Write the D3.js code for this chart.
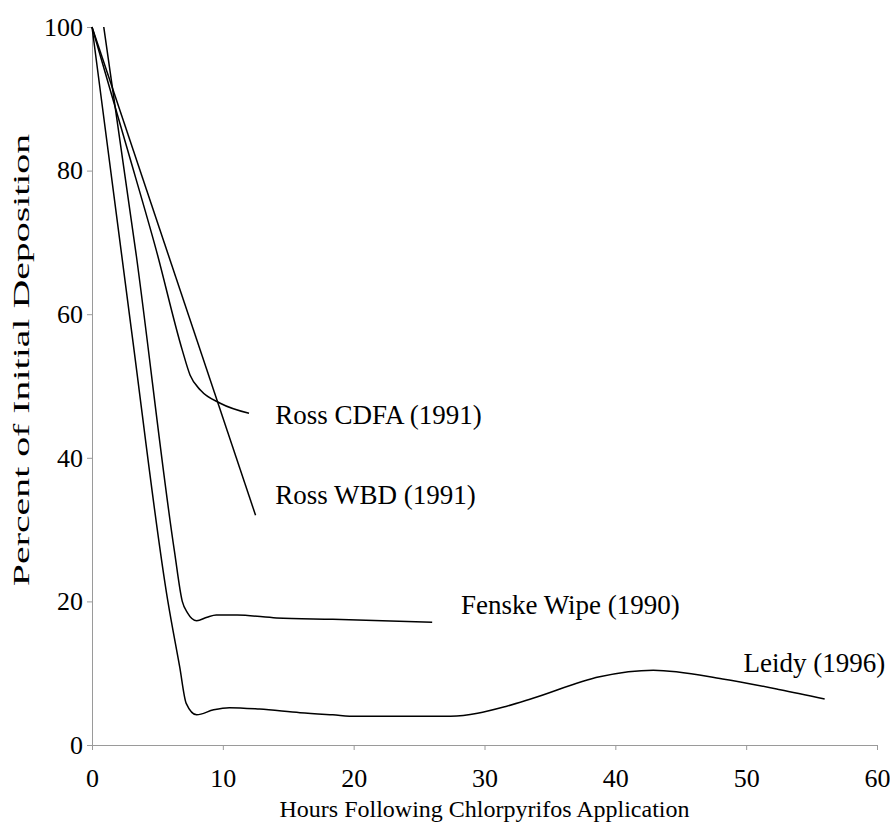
<!DOCTYPE html>
<html>
<head>
<meta charset="utf-8">
<script src="https://cdn.jsdelivr.net/npm/d3@7"></script>
<style>
  body { margin: 0; background: #fff; }
  svg { display: block; font-family: "Liberation Serif", "Times New Roman", serif; }
  .axis path, .axis line { stroke: #9a9a9a; }
  .axis text { font-size: 26px; fill: #000; font-family: "Liberation Serif", serif; }
</style>
</head>
<body>
<svg id="chart"></svg>
<script>
// values
const xTicks = [0, 10, 20, 30, 40, 50, 60];
const yTicks = [0, 20, 40, 60, 80, 100];

const leidyHours = [0, 3, 5.8, 6.7, 7.2, 8, 9.3, 10.5, 12.8, 15.9, 18.4, 20.2, 27.4, 31.7, 33.7, 38.8, 42.9, 48.2, 52.6, 56];
const leidyPct   = [100, 58, 20, 10.9, 5.8, 4.2, 4.9, 5.2, 5.0, 4.5, 4.2, 4.0, 4.0, 5.4, 6.5, 9.5, 10.4, 9.2, 7.7, 6.4];

const fenskeHours = [0.9, 3.4, 6.3, 6.9, 7.3, 8.0, 8.8, 9.5, 11.1, 14.1, 18.4, 26];
const fenskePct   = [100, 68, 27, 20, 18.4, 17.3, 17.8, 18.1, 18.1, 17.7, 17.5, 17.1];

const cdfaHours = [0, 2.7, 4.9, 6.9, 7.5, 8.3, 9.8, 12];
const cdfaPct   = [100, 83, 69, 55, 51.5, 49.4, 47.6, 46.2];

const wbdHours = [0, 12.5];
const wbdPct   = [100, 32];

const seriesNames = ["Leidy (1996)", "Fenske Wipe (1990)", "Ross CDFA (1991)", "Ross WBD (1991)"];

const width = 890, height = 828;
const margin = { top: 27, right: 13, bottom: 83, left: 92 };

const svg = d3.select('#chart')
    .attr('width', width)
    .attr('height', height);

// scales
const x = d3.scaleLinear().domain([0, 60]).range([margin.left, width - margin.right]);
const y = d3.scaleLinear().domain([0, 100]).range([height - margin.bottom, margin.top]);

// axes
svg.append('g')
    .attr('class', 'axis')
    .attr('transform', `translate(0,${height - margin.bottom})`)
    .call(d3.axisBottom(x).tickValues(xTicks).tickSize(5).tickSizeOuter(0).tickPadding(19));

svg.append('g')
    .attr('class', 'axis')
    .attr('transform', `translate(${margin.left},0)`)
    .call(d3.axisLeft(y).tickValues(yTicks).tickSize(5).tickSizeOuter(0).tickPadding(4));

// lines
const line = d3.line()
    .x((d) => x(d[0]))
    .y((d) => y(d[1]))
    .curve(d3.curveMonotoneX);

const series = [
    d3.zip(leidyHours, leidyPct),
    d3.zip(fenskeHours, fenskePct),
    d3.zip(cdfaHours, cdfaPct),
    d3.zip(wbdHours, wbdPct)
];

svg.append('g').selectAll('path')
    .data(series)
    .join('path')
    .attr('d', line)
    .attr('fill', 'none')
    .attr('stroke', '#000')
    .attr('stroke-width', 1.5);

// series labels, placed at the end of each line
const labelPos = [
    { hx: 49.8, py: 10.1 },
    { hx: 28.2, py: 18.2 },
    { hx: 14.0, py: 44.7 },
    { hx: 14.0, py: 33.6 }
];

svg.append('g').selectAll('text')
    .data(seriesNames)
    .join('text')
    .attr('x', (d, i) => x(labelPos[i].hx))
    .attr('y', (d, i) => y(labelPos[i].py))
    .attr('font-size', 27)
    .text((d) => d);

// axis titles
svg.append('text')
    .attr('x', (margin.left + width - margin.right) / 2)
    .attr('y', 817)
    .attr('text-anchor', 'middle')
    .attr('font-size', 24)
    .text('Hours Following Chlorpyrifos Application');

// the y title is stretched along its length in the original
svg.append('text')
    .attr('transform', 'translate(29,360) rotate(-90) scale(1.66,1)')
    .attr('text-anchor', 'middle')
    .attr('font-size', 24)
    .text('Percent of Initial Deposition');
</script>
</body>
</html>
